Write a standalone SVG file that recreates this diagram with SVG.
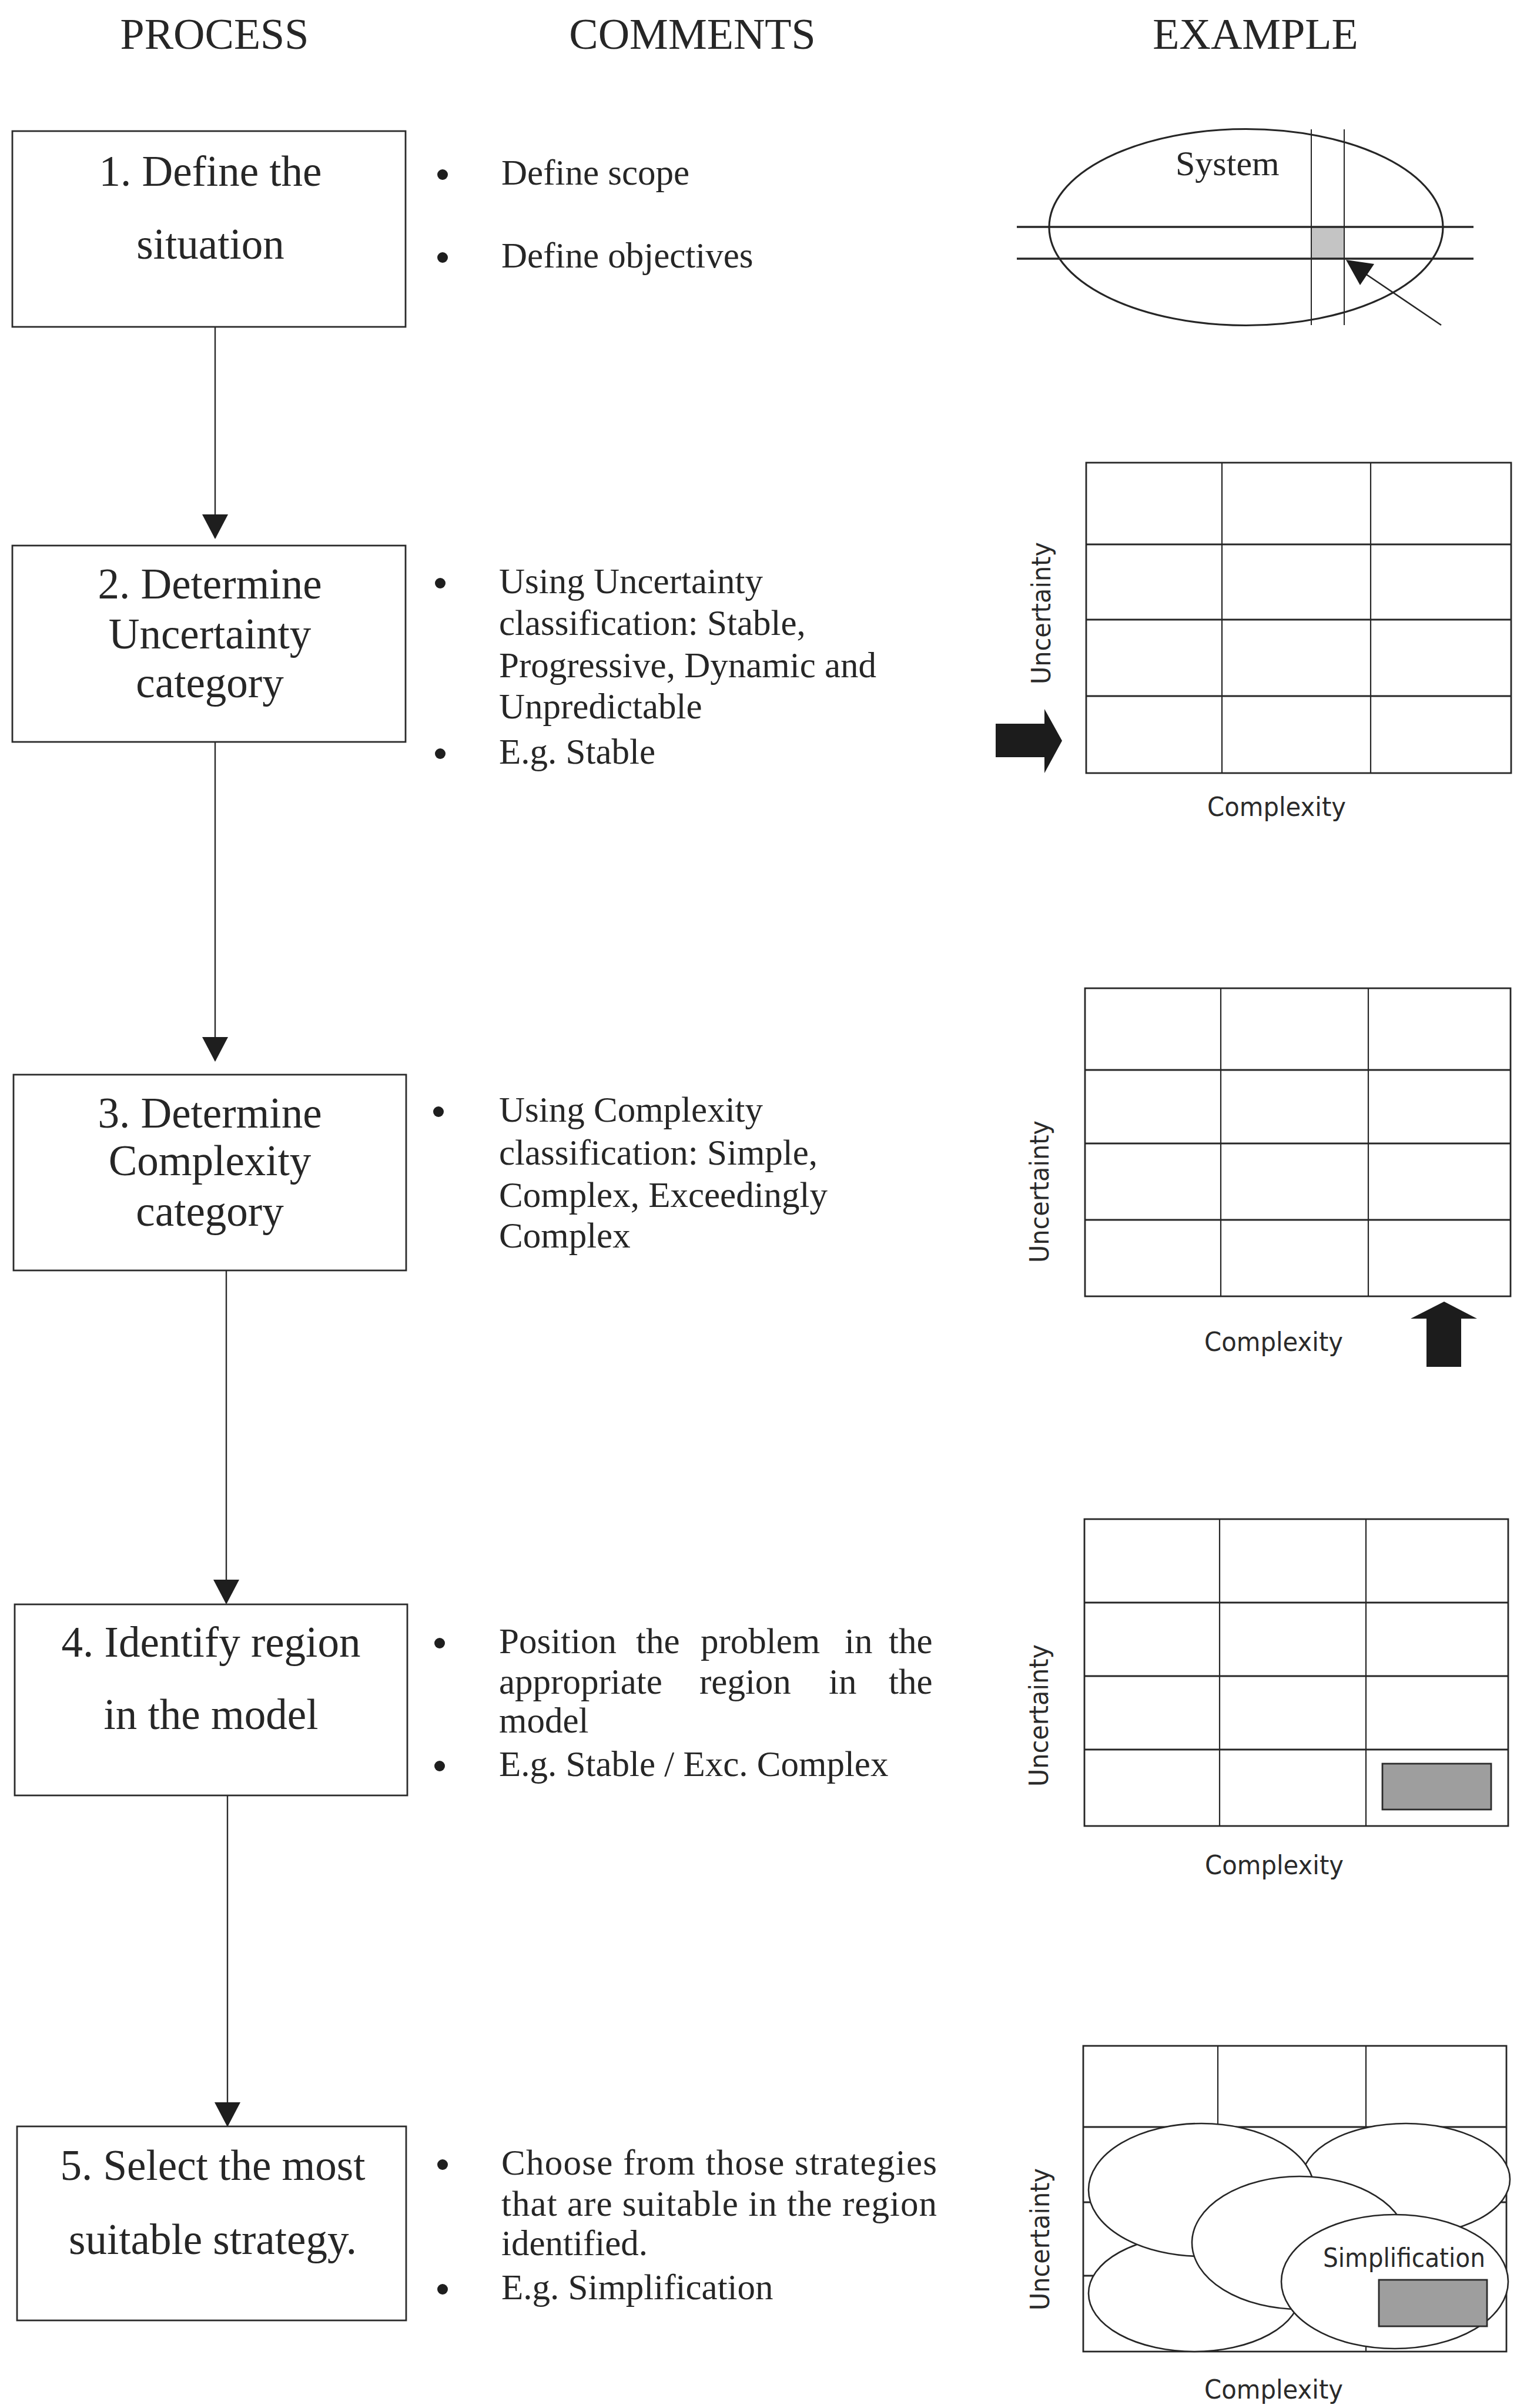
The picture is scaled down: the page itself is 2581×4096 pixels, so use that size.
<svg xmlns="http://www.w3.org/2000/svg" width="2581" height="4096" viewBox="0 0 2581 4096">
  <style>
    .hdr { font-family: "Liberation Serif", "Times New Roman", serif; font-size: 74px; fill: #262626; text-anchor: middle; }
    .box { fill: #ffffff; stroke: #2b2b2b; stroke-width: 2.8; }
    .btxt { font-family: "Liberation Serif", "Times New Roman", serif; font-size: 73px; fill: #262626; text-anchor: middle; }
    .ctxt { font-family: "Liberation Serif", "Times New Roman", serif; font-size: 61px; fill: #262626; }
    .bul { fill: #1e1e1e; }
    .conn { stroke: #2b2b2b; stroke-width: 2.4; fill: none; }
    .gframe { fill: #ffffff; stroke: #262626; stroke-width: 2.8; }
    .gh { stroke: #262626; stroke-width: 3; }
    .gv { stroke: #262626; stroke-width: 2.2; }
    .axis { font-family: "DejaVu Sans", Verdana, sans-serif; font-size: 44px; fill: #2a2a2a; text-anchor: middle; }
    .blob { fill: #ffffff; stroke: #262626; stroke-width: 2.6; }
    .mark { fill: #9e9e9e; stroke: #2b2b2b; stroke-width: 2.8; }
    .block { fill: #1c1c1c; }
  </style>
  <defs>
    <marker id="head" markerUnits="userSpaceOnUse" markerWidth="46" markerHeight="42" viewBox="0 0 46 42" refX="23" refY="40" orient="0">
      <path d="M1,0 L45,0 L23,42 Z" fill="#1e1e1e"/>
    </marker>
  </defs>

  <rect x="0" y="0" width="2581" height="4096" fill="#ffffff"/>

  <!-- column headings -->
  <g id="headings">
    <text class="hdr" x="365" y="83">PROCESS</text>
    <text class="hdr" x="1178" y="83">COMMENTS</text>
    <text class="hdr" x="2136" y="83">EXAMPLE</text>
  </g>

  <!-- flow connectors between process steps -->
  <g id="connectors">
    <line class="conn" x1="366" y1="556" x2="366" y2="915" marker-end="url(#head)"/>
    <line class="conn" x1="366" y1="1262" x2="366" y2="1804" marker-end="url(#head)"/>
    <line class="conn" x1="385" y1="2161" x2="385" y2="2727" marker-end="url(#head)"/>
    <line class="conn" x1="387" y1="3054" x2="387" y2="3616" marker-end="url(#head)"/>
  </g>

  <!-- process steps -->
  <g id="step1">
    <rect class="box" x="21" y="223" width="669" height="333"/>
    <text class="btxt" x="358" y="316">1. Define the</text>
    <text class="btxt" x="358" y="440">situation</text>
  </g>
  <g id="step2">
    <rect class="box" x="21" y="928" width="669" height="334"/>
    <text class="btxt" x="357" y="1018">2. Determine</text>
    <text class="btxt" x="357" y="1103">Uncertainty</text>
    <text class="btxt" x="357" y="1186">category</text>
  </g>
  <g id="step3">
    <rect class="box" x="23" y="1828" width="668" height="333"/>
    <text class="btxt" x="357" y="1918">3. Determine</text>
    <text class="btxt" x="357" y="1999">Complexity</text>
    <text class="btxt" x="357" y="2085">category</text>
  </g>
  <g id="step4">
    <rect class="box" x="25" y="2729" width="668" height="325"/>
    <text class="btxt" x="359" y="2818">4. Identify region</text>
    <text class="btxt" x="359" y="2941">in the model</text>
  </g>
  <g id="step5">
    <rect class="box" x="29" y="3617" width="662" height="330"/>
    <text class="btxt" x="362" y="3708">5. Select the most</text>
    <text class="btxt" x="362" y="3834">suitable strategy.</text>
  </g>

  <!-- comments -->
  <g id="comments1">
    <circle class="bul" cx="753" cy="297" r="9"/>
    <text class="ctxt" x="853" y="314">Define scope</text>
    <circle class="bul" cx="753" cy="438" r="9"/>
    <text class="ctxt" x="853" y="455">Define objectives</text>
  </g>
  <g id="comments2">
    <circle class="bul" cx="749" cy="992" r="9"/>
    <text class="ctxt" x="849" y="1009">Using Uncertainty</text>
    <text class="ctxt" x="849" y="1080">classification: Stable,</text>
    <text class="ctxt" x="849" y="1152">Progressive, Dynamic and</text>
    <text class="ctxt" x="849" y="1222">Unpredictable</text>
    <circle class="bul" cx="749" cy="1282" r="9"/>
    <text class="ctxt" x="849" y="1299">E.g. Stable</text>
  </g>
  <g id="comments3">
    <circle class="bul" cx="746" cy="1891" r="9"/>
    <text class="ctxt" x="849" y="1908">Using Complexity</text>
    <text class="ctxt" x="849" y="1981">classification: Simple,</text>
    <text class="ctxt" x="849" y="2053">Complex, Exceedingly</text>
    <text class="ctxt" x="849" y="2122">Complex</text>
  </g>
  <g id="comments4">
    <circle class="bul" cx="748" cy="2795" r="9"/>
    <text class="ctxt" y="2812"><tspan x="849">Position</tspan><tspan x="1082">the</tspan><tspan x="1192">problem</tspan><tspan x="1437">in</tspan><tspan x="1512">the</tspan></text>
    <text class="ctxt" y="2881"><tspan x="849">appropriate</tspan><tspan x="1190">region</tspan><tspan x="1410">in</tspan><tspan x="1512">the</tspan></text>
    <text class="ctxt" x="849" y="2947">model</text>
    <circle class="bul" cx="748" cy="3004" r="9"/>
    <text class="ctxt" x="849" y="3021">E.g. Stable / Exc. Complex</text>
  </g>
  <g id="comments5">
    <circle class="bul" cx="753" cy="3682" r="9"/>
    <text class="ctxt" x="853" y="3699" textLength="741" lengthAdjust="spacing">Choose from those strategies</text>
    <text class="ctxt" x="853" y="3769" textLength="741" lengthAdjust="spacing">that are suitable in the region</text>
    <text class="ctxt" x="853" y="3836">identified.</text>
    <circle class="bul" cx="753" cy="3894" r="9"/>
    <text class="ctxt" x="853" y="3911">E.g. Simplification</text>
  </g>

  <!-- example 1: system with a selected slice -->
  <g id="example1">
    <ellipse cx="2120" cy="386.5" rx="335" ry="167" fill="none" stroke="#262626" stroke-width="3.2"/>
    <rect x="2231" y="386" width="56" height="54" fill="#c4c4c4"/>
    <line x1="1730" y1="386" x2="2507" y2="386" stroke="#262626" stroke-width="3.6"/>
    <line x1="1730" y1="440" x2="2507" y2="440" stroke="#262626" stroke-width="3.6"/>
    <line x1="2231" y1="220" x2="2231" y2="553" stroke="#262626" stroke-width="2"/>
    <line x1="2287" y1="220" x2="2287" y2="553" stroke="#262626" stroke-width="2"/>
    <line x1="2452" y1="553" x2="2322" y2="465" stroke="#262626" stroke-width="2.6"/>
    <polygon points="2290,442 2338,449 2314,485" fill="#1c1c1c"/>
    <text x="2000" y="298" font-family="Liberation Serif, Times New Roman, serif" font-size="60" fill="#262626">System</text>
  </g>

  <!-- example 2: uncertainty row pointer -->
  <g id="example2">
    <rect class="gframe" x="1848" y="787" width="723" height="528"/>
    <line class="gh" x1="1848" y1="926" x2="2571" y2="926"/>
    <line class="gh" x1="1848" y1="1054" x2="2571" y2="1054"/>
    <line class="gh" x1="1848" y1="1184" x2="2571" y2="1184"/>
    <line class="gv" x1="2079" y1="787" x2="2079" y2="1315"/>
    <line class="gv" x1="2332" y1="787" x2="2332" y2="1315"/>
    <text class="axis" transform="translate(1787,1043) rotate(-90)" textLength="242" lengthAdjust="spacingAndGlyphs">Uncertainty</text>
    <text class="axis" x="2172" y="1388" textLength="236" lengthAdjust="spacingAndGlyphs">Complexity</text>
    <polygon class="block" points="1694,1231 1777,1231 1777,1206 1807,1260 1777,1315 1777,1288 1694,1288"/>
  </g>

  <!-- example 3: complexity column pointer -->
  <g id="example3">
    <rect class="gframe" x="1846" y="1681" width="724" height="524"/>
    <line class="gh" x1="1846" y1="1820" x2="2570" y2="1820"/>
    <line class="gh" x1="1846" y1="1945" x2="2570" y2="1945"/>
    <line class="gh" x1="1846" y1="2075" x2="2570" y2="2075"/>
    <line class="gv" x1="2077" y1="1681" x2="2077" y2="2205"/>
    <line class="gv" x1="2328" y1="1681" x2="2328" y2="2205"/>
    <text class="axis" transform="translate(1784,2027) rotate(-90)" textLength="242" lengthAdjust="spacingAndGlyphs">Uncertainty</text>
    <text class="axis" x="2167" y="2298" textLength="236" lengthAdjust="spacingAndGlyphs">Complexity</text>
    <polygon class="block" points="2457,2214 2513,2243 2486,2243 2486,2325 2427,2325 2427,2243 2400,2243"/>
  </g>

  <!-- example 4: identified region -->
  <g id="example4">
    <rect class="gframe" x="1845" y="2584" width="721" height="522"/>
    <line class="gh" x1="1845" y1="2726" x2="2566" y2="2726"/>
    <line class="gh" x1="1845" y1="2851" x2="2566" y2="2851"/>
    <line class="gh" x1="1845" y1="2976" x2="2566" y2="2976"/>
    <line class="gv" x1="2075" y1="2584" x2="2075" y2="3106"/>
    <line class="gv" x1="2324" y1="2584" x2="2324" y2="3106"/>
    <rect class="mark" x="2352" y="3000" width="185" height="78"/>
    <text class="axis" transform="translate(1783,2918) rotate(-90)" textLength="242" lengthAdjust="spacingAndGlyphs">Uncertainty</text>
    <text class="axis" x="2168" y="3188" textLength="236" lengthAdjust="spacingAndGlyphs">Complexity</text>
  </g>

  <!-- example 5: strategy regions over the model -->
  <g id="example5">
    <rect class="gframe" x="1843" y="3480" width="720" height="520"/>
    <line class="gh" x1="1843" y1="3618" x2="2563" y2="3618"/>
    <line class="gh" x1="1843" y1="3746" x2="2563" y2="3746"/>
    <line class="gh" x1="1843" y1="3871" x2="2563" y2="3871"/>
    <line class="gv" x1="2072" y1="3480" x2="2072" y2="4000"/>
    <line class="gv" x1="2324" y1="3480" x2="2324" y2="4000"/>
    <ellipse class="blob" cx="2032" cy="3901" rx="180" ry="99"/>
    <ellipse class="blob" cx="2392" cy="3707" rx="177" ry="95"/>
    <ellipse class="blob" cx="2044" cy="3725" rx="192" ry="113"/>
    <ellipse class="blob" cx="2211" cy="3815" rx="183" ry="113"/>
    <ellipse class="blob" cx="2373" cy="3881" rx="193" ry="114"/>
    <text class="axis" x="2389" y="3856" textLength="276" lengthAdjust="spacingAndGlyphs">Simplification</text>
    <rect class="mark" x="2346" y="3878" width="184" height="79"/>
    <text class="axis" transform="translate(1785,3809) rotate(-90)" textLength="242" lengthAdjust="spacingAndGlyphs">Uncertainty</text>
    <text class="axis" x="2167" y="4080" textLength="236" lengthAdjust="spacingAndGlyphs">Complexity</text>
  </g>
</svg>
